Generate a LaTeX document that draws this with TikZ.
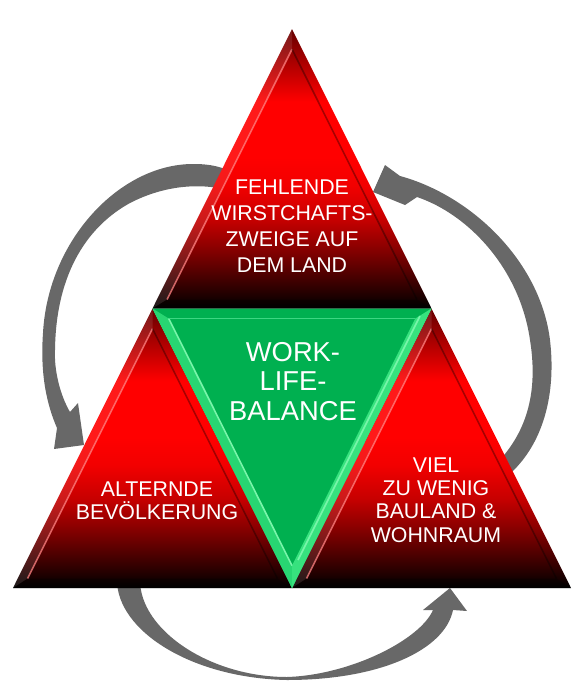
\documentclass[tikz,border=0pt]{standalone}
\usepackage{fontspec}
\setmainfont{Liberation Sans}
\pgfdeclareverticalshading{redbevel}{100bp}{rgb(0bp)=(0,0,0); rgb(25bp)=(0,0,0); rgb(29bp)=(0.2,0,0); rgb(35bp)=(0.5,0,0); rgb(41bp)=(0.78,0,0); rgb(47bp)=(0.95,0,0); rgb(52bp)=(1,0,0); rgb(62bp)=(1,0,0); rgb(68bp)=(0.72,0,0); rgb(75bp)=(0.4,0,0); rgb(100bp)=(0.4,0,0)}

\begin{document}
\begin{tikzpicture}[x=0.75pt,y=0.75pt,yscale=-1,xscale=1,
  arrowgray/.style={draw=none,fill={rgb, 255:red, 104; green, 104; blue, 104 }},
  redtri/.style={shading=redbevel},
  hilite/.style={draw={rgb, 255:red, 255; green, 130; blue, 130 },draw opacity=0.75,line width=1.2},
  shadeline/.style={draw=black,draw opacity=0.35,line width=1.2},
  lbl/.style={text=white,align=center,inner sep=0.75pt,font=\fontsize{16}{17.6}\selectfont}]
\useasboundingbox (0,0) rectangle (583,683);

%Shape: Curved Arrow left [id:dp1]
\fill[arrowgray] (228,170) .. controls (215,165) and (205,164) .. (193,164) .. controls (120,164) and (48,240) .. (43,333) .. controls (40,375) and (47,405) .. (57,428) -- (54,449) -- (84,445) -- (78,403) -- (70,412) .. controls (60,395) and (54,370) .. (55,350) .. controls (56,270) and (90,225) .. (130,203) .. controls (165,185) and (200,183) .. (228,190) -- cycle ;
%Shape: Curved Arrow right [id:dp2]
\fill[arrowgray] (400,176) .. controls (470,195) and (540,260) .. (550,340) .. controls (557,400) and (540,450) .. (505,478) -- (498,462) .. controls (528,430) and (538,390) .. (530,340) .. controls (520,270) and (470,215) .. (417,197) -- (405,205) -- (373,192) -- (385,165) -- cycle ;
%Shape: Curved Arrow bottom [id:dp3]
\fill[arrowgray] (117,580) .. controls (117,630) and (190,678) .. (287,680) .. controls (380,680) and (445,650) .. (453,610) -- (467,611) -- (450,588) -- (423,610) -- (433,610) .. controls (420,640) and (350,675) .. (287,677) .. controls (210,677) and (140,630) .. (140,580) -- cycle ;

%Shape: Triangle top [id:dp4]
\path[redtri] (292,29) -- (152.5,308.5) -- (431.5,308.5) -- cycle ;
\fill[white,fill opacity=0.1] (292,29) -- (152.5,308.5) -- (167.05,299.5) -- (292,49.2) -- cycle ;
\fill[black,fill opacity=0.3] (152.5,308.5) -- (431.5,308.5) -- (416.95,299.5) -- (167.05,299.5) -- cycle ;
\draw[hilite] (292,49.2) -- (167.05,299.5) ;
\draw[shadeline] (292,49.2) -- (416.95,299.5) ;

%Shape: Triangle left [id:dp5]
\path[redtri] (152.5,308.5) -- (13,588) -- (292,588) -- cycle ;
\fill[white,fill opacity=0.1] (152.5,308.5) -- (13,588) -- (27.55,578.5) -- (152.5,328.7) -- cycle ;
\fill[black,fill opacity=0.3] (13,588) -- (292,588) -- (277.45,578.5) -- (27.55,578.5) -- cycle ;
\draw[hilite] (152.5,328.7) -- (27.55,578.5) ;
\draw[shadeline] (152.5,328.7) -- (277.45,578.5) ;

%Shape: Triangle right [id:dp6]
\path[redtri] (431.5,308.5) -- (292,588) -- (571,588) -- cycle ;
\fill[white,fill opacity=0.1] (431.5,308.5) -- (292,588) -- (306.55,578.5) -- (431.5,328.7) -- cycle ;
\fill[black,fill opacity=0.3] (292,588) -- (571,588) -- (556.45,578.5) -- (306.55,578.5) -- cycle ;
\draw[hilite] (431.5,328.7) -- (306.55,578.5) ;
\draw[shadeline] (431.5,328.7) -- (556.45,578.5) ;

%Shape: Triangle center [id:dp7]
\fill[fill={rgb, 255:red, 0; green, 176; blue, 80 }] (152.5,308.5) -- (431.5,308.5) -- (292,588) -- cycle ;
\fill[fill={rgb, 255:red, 40; green, 214; blue, 114 }] (152.5,308.5) -- (292,588) -- (292,565.6) -- (168.7,318.5) -- cycle ;
\fill[fill={rgb, 255:red, 55; green, 226; blue, 126 }] (431.5,308.5) -- (292,588) -- (292,565.6) -- (415.3,318.5) -- cycle ;
\draw[draw={rgb, 255:red, 120; green, 245; blue, 170 },line width=1.2] (168.7,318.5) -- (292,565.6) ;
\draw[draw={rgb, 255:red, 120; green, 245; blue, 170 },line width=1.2] (420,316) -- (298,560) ;
\draw[draw={rgb, 255:red, 60; green, 215; blue, 130 },line width=0.8] (168.7,318.5) -- (415.3,318.5) ;

% Text Node
\draw (292,226.5) node (fehlende) [lbl,font=\fontsize{16}{19.5}\selectfont] {FEHLENDE\\WIRSTCHAFTS-\\ZWEIGE AUF\\DEM LAND};
% Text Node
\draw (293,381.5) node (balance) [lbl,font=\fontsize{20.5}{22}\selectfont] {WORK-\\LIFE-\\BALANCE};
% Text Node
\draw (157,500.5) node (alternde) [lbl] {ALTERNDE\\BEVÖLKERUNG};
% Text Node
\draw (436,500) node (bauland) [lbl] {VIEL\\ZU WENIG\\BAULAND \&\\WOHNRAUM};

\end{tikzpicture}
\end{document}
